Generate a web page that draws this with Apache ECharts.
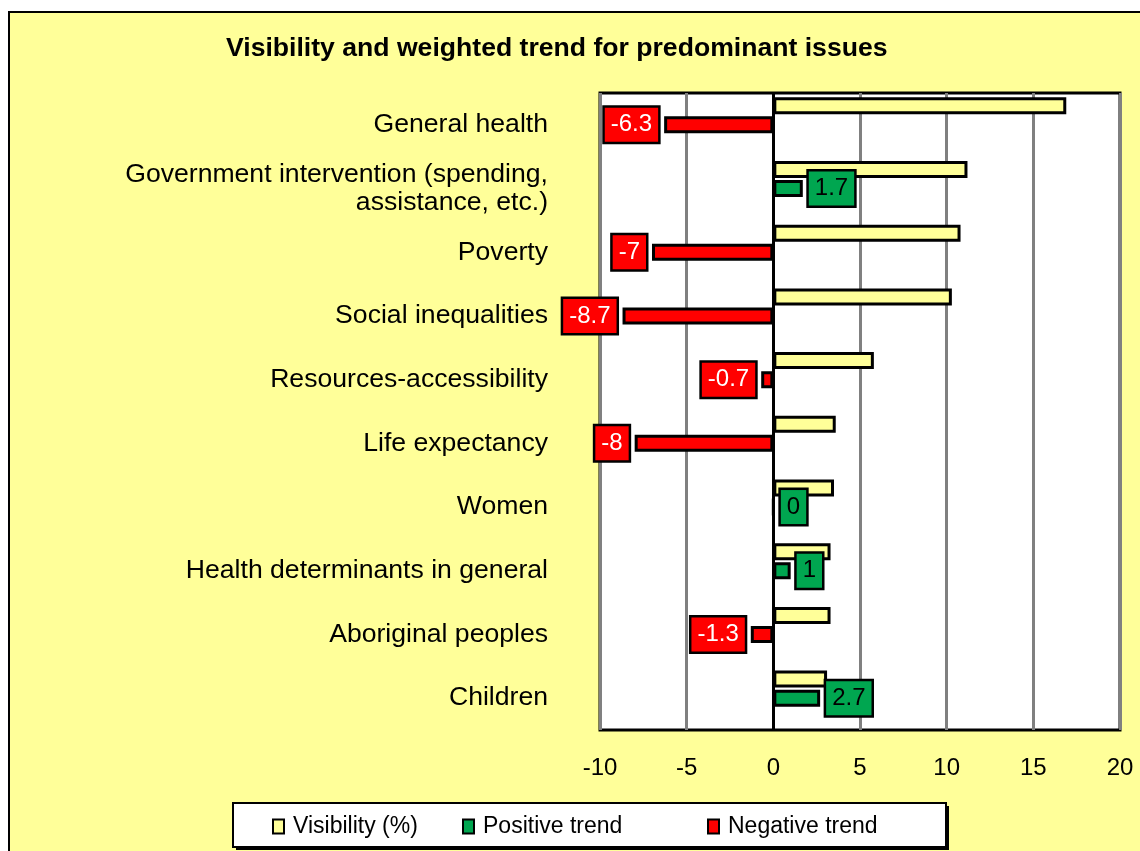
<!DOCTYPE html>
<html>
<head>
<meta charset="utf-8">
<script src="https://cdn.jsdelivr.net/npm/echarts@6/dist/echarts.min.js"></script>
<style>
  html, body { margin: 0; padding: 0; background: #fff; overflow: hidden; }
  #bg { position: absolute; left: 8px; top: 11px; width: 1300px; height: 1000px; background: #FFFF99; border: 2px solid #000; }
  #chart { position: absolute; left: 0; top: 0; width: 1140px; height: 851px; }
</style>
</head>
<body>
<div id="bg"></div>
<div id="chart"></div>
<script>
const categories = ['General health', 'Government intervention (spending,\nassistance, etc.)', 'Poverty', 'Social inequalities', 'Resources-accessibility', 'Life expectancy', 'Women', 'Health determinants in general', 'Aboriginal peoples', 'Children'];
const visibility = [16.9, 11.2, 10.8, 10.3, 5.8, 3.6, 3.5, 3.3, 3.3, 3.1];
const positiveTrend = ['-', 1.7, '-', '-', '-', '-', 0, 1, '-', 2.7];
const negativeTrend = [-6.3, '-', -7, -8.7, -0.7, -8, '-', '-', -1.3, '-'];
const spacer = ['-', '-', '-', '-', '-', '-', '-', '-', '-', '-'];

const FONT = 'Liberation Sans, Arial, sans-serif';
const chart = echarts.init(document.getElementById('chart'), null, { renderer: 'canvas' });

function legendAt(name, left) {
  return {
    data: [name], left: left, top: 815, padding: 0, itemWidth: 11, itemHeight: 14,
    icon: 'rect', selectedMode: false,
    textStyle: { fontFamily: FONT, fontSize: 23, color: '#000', padding: [0, 0, 0, 4] }
  };
}

const labelBox = (bg, fg, pos) => ({
  show: true, position: pos, distance: 6, color: fg, backgroundColor: bg,
  borderColor: '#000', borderWidth: 2.5, padding: [4, 6], fontSize: 24, lineHeight: 26,
  fontFamily: FONT
});

const BW = 17;
const BORDER = 3;

chart.setOption({
  backgroundColor: 'transparent',
  animation: false,
  title: {
    text: 'Visibility and weighted trend for predominant issues',
    left: 221, top: 30,
    textStyle: { fontFamily: FONT, fontSize: 26.6, fontWeight: 'bold', color: '#000' }
  },
  graphic: [
    {
      type: 'rect', z: 1,
      shape: { x: 236, y: 806, width: 713, height: 44 },
      style: { fill: '#000' }
    },
    {
      type: 'rect', z: 1,
      shape: { x: 233, y: 803, width: 713, height: 44 },
      style: { fill: '#fff', stroke: '#000', lineWidth: 2 }
    }
  ],
  legend: [
    legendAt('Visibility (%)', 272),
    legendAt('Positive trend', 462),
    legendAt('Negative trend', 707)
  ],
  grid: {
    left: 600, right: 20, top: 93, bottom: 121,
    show: true, backgroundColor: '#fff', borderColor: '#000', borderWidth: 3
  },
  xAxis: {
    type: 'value', min: -10, max: 20, interval: 5,
    axisLine: { show: false }, axisTick: { show: false },
    splitLine: { show: true, lineStyle: { color: '#808080', width: 3 } },
    axisLabel: { fontFamily: FONT, fontSize: 24, color: '#000', margin: 26 }
  },
  yAxis: {
    type: 'category', data: categories, inverse: true,
    axisLine: { show: false, onZero: false }, axisTick: { show: false },
    axisLabel: { fontFamily: FONT, fontSize: 26.6, color: '#000', margin: 52, lineHeight: 28, align: 'right' }
  },
  series: [
    {
      name: 'Visibility (%)', type: 'bar', data: visibility, barWidth: BW, barGap: '12%',
      itemStyle: { color: '#FFFF99', borderColor: '#000', borderWidth: BORDER },
      markLine: {
        silent: true, symbol: 'none', label: { show: false },
        lineStyle: { color: '#000', width: 3, type: 'solid' },
        data: [{ xAxis: 0 }]
      }
    },
    {
      name: 'Positive trend', type: 'bar', stack: 'trend', data: positiveTrend, barWidth: BW,
      itemStyle: { color: '#00A650', borderColor: '#000', borderWidth: BORDER },
      label: labelBox('#00A650', '#000', 'right')
    },
    {
      name: 'Negative trend', type: 'bar', stack: 'trend', data: negativeTrend, barWidth: BW,
      itemStyle: { color: '#FF0000', borderColor: '#000', borderWidth: BORDER },
      label: labelBox('#FF0000', '#fff', 'left')
    },
    {
      name: 'spacer', type: 'bar', data: spacer, barWidth: BW, silent: true,
      itemStyle: { color: 'transparent' }
    }
  ]
});
</script>
</body>
</html>
